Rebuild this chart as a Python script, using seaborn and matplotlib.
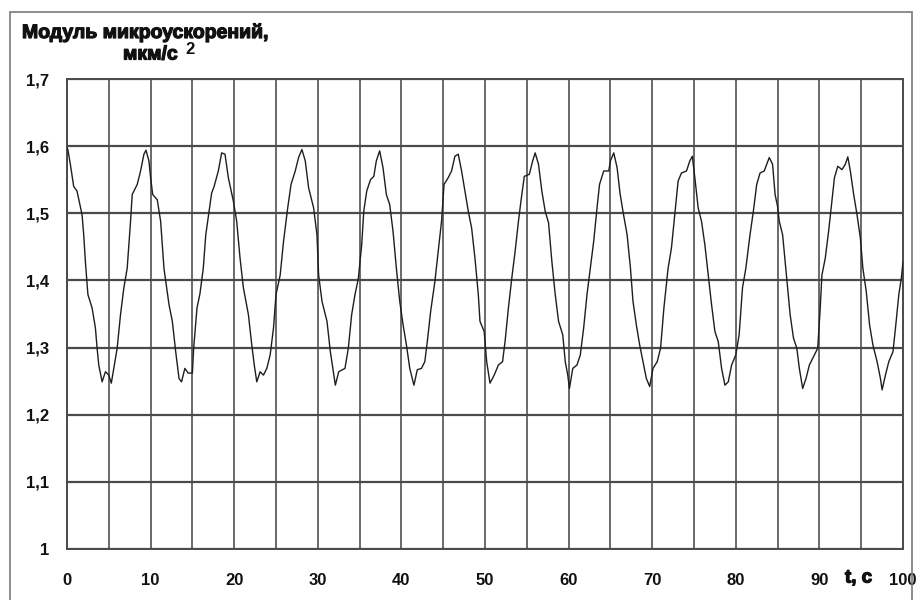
import matplotlib
matplotlib.use("Agg")
import matplotlib.pyplot as plt
import matplotlib.patheffects as pe
import numpy as np
import pandas as pd
import seaborn as sns
from matplotlib.patches import Rectangle

# ---- data ----
t_values = [
    0.0, 0.1, 0.4, 0.8, 1.2, 1.6, 1.8, 2.0, 2.2, 2.5, 3.0, 3.4, 3.6, 3.8, 4.2, 4.6, 5.0, 5.3, 5.6,
    6.0, 6.4, 6.8, 7.2, 7.6, 7.8, 8.4, 8.8, 9.2, 9.45, 9.8, 10.0, 10.25, 10.8, 11.2, 11.6, 12.2,
    12.6, 13.0, 13.4, 13.7, 14.1, 14.5, 15.0, 15.15, 15.55,
    15.9, 16.3, 16.6, 17.0, 17.3, 17.6, 18.1, 18.5, 18.9, 19.3, 19.9, 20.3, 20.7, 21.1, 21.7,
    22.1, 22.4, 22.7, 23.1, 23.5, 23.9, 24.3, 24.7, 25.0, 25.5, 25.9, 26.4, 26.8, 27.3, 27.7,
    28.1, 28.5, 28.9, 29.5, 29.9, 30.1, 30.5, 31.1, 31.5, 31.8, 32.1, 32.5,
    33.25, 33.65, 34.05, 34.45, 34.85, 35.25, 35.5, 35.85, 36.3, 36.7, 37.0, 37.4, 37.8, 38.2,
    38.6, 39.0, 39.4, 39.8, 40.2, 40.6, 41.0, 41.5, 41.9, 42.4, 42.8, 43.1, 43.5, 44.0, 44.4,
    44.8, 45.1, 45.6, 46.0, 46.4, 46.8, 47.2, 47.6, 48.0, 48.4, 48.8, 49.2,
    49.4, 49.9, 50.2, 50.6, 51.1, 51.6, 52.1, 52.4, 52.8, 53.2, 53.6, 54.0, 54.3, 54.7, 55.3,
    55.7, 56.0, 56.4, 56.8, 57.2, 57.6, 58.0, 58.4, 58.8, 59.3, 59.6, 59.9, 60.1, 60.5, 61.0,
    61.4, 61.8, 62.2, 62.6, 63.0, 63.4, 63.7, 64.2, 64.8, 65.0, 65.4, 65.8,
    66.15, 66.5, 67.0, 67.4, 67.7, 68.1, 68.5, 68.9, 69.3, 69.7, 70.1, 70.6, 71.0, 71.4, 71.9,
    72.3, 72.7, 73.1, 73.5, 74.1, 74.5, 74.8, 75.1, 75.5, 75.9, 76.3, 76.7, 77.1, 77.5, 77.9,
    78.3, 78.7, 79.1, 79.5, 80.0, 80.4, 80.8, 81.2, 81.7, 82.1, 82.5,
    82.9, 83.4, 83.7, 84.0, 84.4, 84.7, 85.0, 85.2, 85.6, 85.9, 86.2, 86.5, 86.9, 87.3, 87.6,
    88.0, 88.4, 88.8, 89.4, 89.8, 90.1, 90.3, 90.7, 91.1, 91.5, 91.8, 92.2, 92.7, 93.1, 93.4,
    93.7, 94.1, 94.5, 94.9, 95.2, 95.6, 96.0, 96.4, 96.9, 97.3, 97.5, 97.9, 98.3, 98.8, 99.1,
    99.5, 99.8, 100.0,
]
accel_values = [
    1.598, 1.595, 1.573, 1.540, 1.533, 1.510, 1.498, 1.468, 1.428, 1.379, 1.359, 1.329, 1.299, 1.274, 1.249, 1.264, 1.259, 1.247, 1.269,
    1.299, 1.349, 1.389, 1.418, 1.488, 1.528, 1.543, 1.563, 1.588, 1.594, 1.578, 1.553, 1.528, 1.520, 1.488, 1.418, 1.364,
    1.339, 1.294, 1.254, 1.249, 1.269, 1.262, 1.262, 1.299, 1.359,
    1.380, 1.418, 1.468, 1.503, 1.530, 1.540, 1.563, 1.590, 1.588, 1.553, 1.518, 1.488, 1.433, 1.389, 1.349,
    1.304, 1.274, 1.249, 1.264, 1.259, 1.269, 1.289, 1.329, 1.379, 1.408, 1.458, 1.508, 1.543, 1.563, 1.583,
    1.595, 1.578, 1.538, 1.508, 1.468, 1.408, 1.369, 1.339, 1.294, 1.269, 1.244, 1.264,
    1.269, 1.299, 1.349, 1.379, 1.403, 1.453, 1.503, 1.533, 1.550, 1.555, 1.578, 1.593, 1.568, 1.528,
    1.513, 1.473, 1.418, 1.369, 1.334, 1.304, 1.269, 1.244, 1.267, 1.269, 1.279, 1.309, 1.354, 1.398, 1.443,
    1.488, 1.543, 1.553, 1.563, 1.585, 1.588, 1.563, 1.533, 1.503, 1.478, 1.433, 1.379,
    1.339, 1.324, 1.279, 1.247, 1.259, 1.274, 1.279, 1.309, 1.359, 1.403, 1.443, 1.488, 1.518, 1.555, 1.558,
    1.578, 1.590, 1.573, 1.533, 1.503, 1.486, 1.428, 1.379, 1.339, 1.319, 1.279, 1.259, 1.239, 1.269, 1.274,
    1.289, 1.329, 1.379, 1.418, 1.458, 1.508, 1.543, 1.563, 1.563, 1.578, 1.590, 1.568,
    1.530, 1.503, 1.468, 1.418, 1.369, 1.334, 1.304, 1.279, 1.254, 1.242, 1.269, 1.279, 1.299, 1.359, 1.418,
    1.448, 1.498, 1.548, 1.560, 1.563, 1.578, 1.585, 1.553, 1.508, 1.488, 1.453, 1.408, 1.364, 1.324, 1.309,
    1.269, 1.244, 1.249, 1.274, 1.289, 1.319, 1.389, 1.418, 1.468, 1.503, 1.543,
    1.560, 1.563, 1.573, 1.583, 1.573, 1.528, 1.510, 1.488, 1.468, 1.428, 1.389, 1.349, 1.314, 1.299, 1.269,
    1.239, 1.254, 1.274, 1.289, 1.299, 1.359, 1.408, 1.433, 1.473, 1.518, 1.553, 1.570, 1.565, 1.573, 1.584,
    1.563, 1.528, 1.498, 1.463, 1.418, 1.384, 1.334, 1.304, 1.279, 1.254, 1.237, 1.259, 1.279, 1.294, 1.329,
    1.379, 1.403, 1.428,
]
x_ticks = [0, 10, 20, 30, 40, 50, 60, 70, 80, 90, 100]
x_tick_labels = ["0", "10", "20", "30", "40", "50", "60", "70", "80", "90", "100"]
x_grid = [0, 5, 10, 15, 20, 25, 30, 35, 40, 45, 50, 55, 60, 65, 70, 75, 80, 85, 90, 95, 100]
y_ticks = [1.0, 1.1, 1.2, 1.3, 1.4, 1.5, 1.6, 1.7]
y_tick_labels = ["1", "1,1", "1,2", "1,3", "1,4", "1,5", "1,6", "1,7"]
y_title_line1 = "Модуль микроускорений,"
y_title_line2 = "мкм/с"
x_title = "t, c"

sns.set_theme(style="white")
plt.rcParams['font.family'] = ['Liberation Sans', 'DejaVu Sans']

W, H = 917, 600
fig = plt.figure(figsize=(W / 100, H / 100), dpi=100)
ax = fig.add_axes([67 / W, 1 - 549 / H, 836 / W, 470 / H])

df = pd.DataFrame({"t": t_values, "a": accel_values})
sns.lineplot(data=df, x="t", y="a", ax=ax, color="#1e1e1e", linewidth=1.0, zorder=3)

ax.set_xlim(0, 100)
ax.set_ylim(1.0, 1.7)
for xv in x_grid:
    ax.axvline(xv, color="#5e5e5e", linewidth=1.3, zorder=1)
for yv in y_ticks:
    ax.axhline(yv, color="#4a4a4a", linewidth=1.6, zorder=1)

ax.set_xticks(x_ticks)
ax.set_xticklabels(x_tick_labels)
ax.set_yticks(y_ticks)
ax.set_yticklabels(y_tick_labels)
ax.tick_params(axis="x", direction="out", length=5, width=1.2, color="#444444",
               pad=12, labelsize=12, labelcolor="#111111")
ax.tick_params(axis="y", direction="out", length=5, width=1.2, color="#444444",
               pad=8, labelsize=12, labelcolor="#111111")
for lab in ax.get_xticklabels() + ax.get_yticklabels():
    lab.set_fontweight("bold")
ax.set_xlabel("")
ax.set_ylabel("")
for s in ax.spines.values():
    s.set_color("#4a4a4a")
    s.set_linewidth(1.4)

heavy = [pe.withStroke(linewidth=0.9, foreground="#111111")]
fig.text(22 / W, 1 - 33 / H, y_title_line1, fontsize=14, fontweight="bold",
         ha="left", va="center", color="#111111", path_effects=heavy)
fig.text(123 / W, 1 - 55 / H, y_title_line2, fontsize=14, fontweight="bold",
         ha="left", va="center", color="#111111", path_effects=heavy)
fig.text(185 / W, 1 - 50 / H, "2", fontsize=12, fontweight="bold",
         ha="left", va="center", color="#111111")
fig.text(845 / W, 1 - 578 / H, x_title, fontsize=13.5, fontweight="bold",
         ha="left", va="center", color="#111111", path_effects=heavy)

fig.patches.append(Rectangle((10 / W, -0.02), 902 / W, 1 - 12 / H + 0.02,
                             transform=fig.transFigure, fill=False,
                             edgecolor="#7a7a7a", linewidth=1.2, zorder=10))

fig.savefig("out.png", dpi=100)
